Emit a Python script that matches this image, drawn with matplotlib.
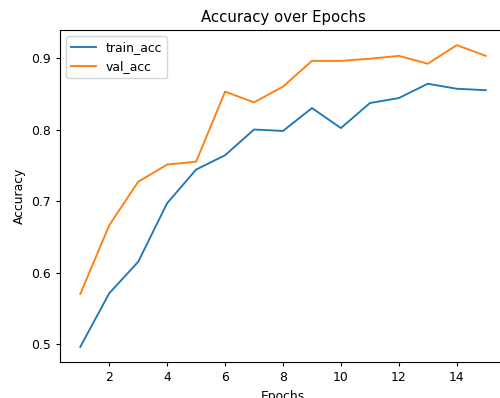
import matplotlib
matplotlib.use("Agg")
import matplotlib.pyplot as plt

# --- data ---
epochs = list(range(1, 16))
train_acc = [0.496, 0.571, 0.615, 0.697, 0.744, 0.764, 0.800, 0.798,
             0.830, 0.802, 0.837, 0.844, 0.864, 0.857, 0.855]
val_acc = [0.570, 0.666, 0.727, 0.751, 0.755, 0.853, 0.838, 0.860,
           0.896, 0.896, 0.899, 0.903, 0.892, 0.918, 0.903]

# the reference looks rendered at ~0.89 of default scale
plt.rcParams["font.size"] = 8.9
plt.rcParams["axes.titlesize"] = 10.7
plt.rcParams["lines.linewidth"] = 1.35
plt.rcParams["xtick.major.size"] = 3.1
plt.rcParams["ytick.major.size"] = 3.1

fig = plt.figure(figsize=(5.0, 3.98), dpi=100)
# axes runs slightly past the right edge, like the cropped original
ax = fig.add_axes([0.12, 0.0905, 0.892, 0.834])

ax.plot(epochs, train_acc, label="train_acc")
ax.plot(epochs, val_acc, label="val_acc")
ax.set_title("Accuracy over Epochs")
ax.set_xlabel("Epochs")
ax.set_ylabel("Accuracy")
ax.legend(loc="upper left")

fig.savefig("out.png", dpi=100)
